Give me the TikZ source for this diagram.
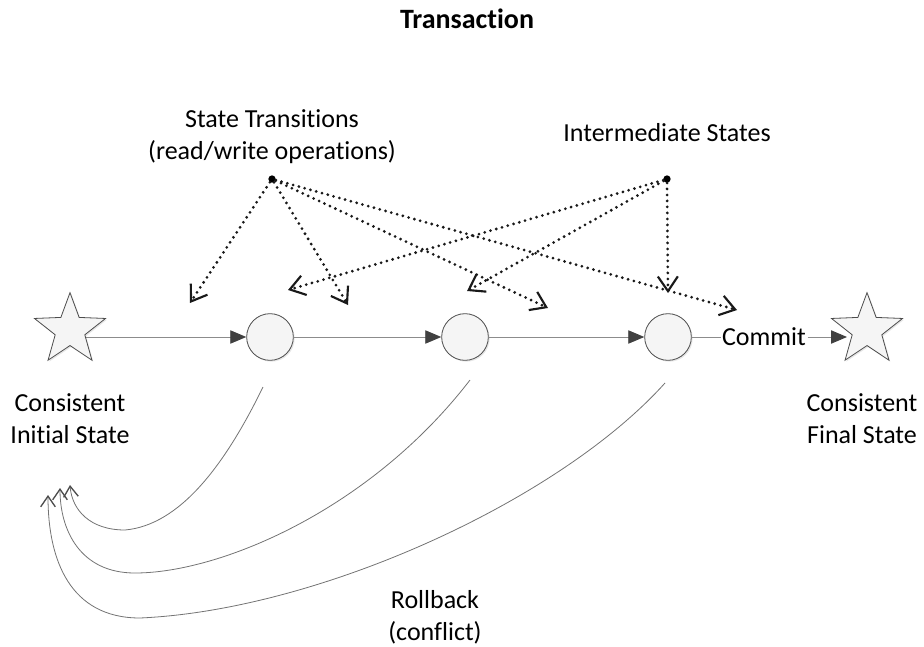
\documentclass[tikz,border=0pt]{standalone}
\usepackage{fontspec}
\setmainfont{Carlito}[Ligatures=NoCommon]
\usetikzlibrary{arrows.meta,shapes.geometric,backgrounds,calc,shadows}
\tikzstyle{statestar}=[star, star points=5, star point ratio=2.4, minimum size=56pt, inner sep=0pt, draw=black!70, fill=black!4, line width=0.6pt, drop shadow={shadow xshift=1pt, shadow yshift=-1pt, opacity=0.2}]
\tikzstyle{opstate}=[circle, minimum size=35pt, inner sep=0pt, draw=black!70, fill=black!4, line width=0.6pt, drop shadow={shadow xshift=1pt, shadow yshift=-1pt, opacity=0.2}]
\tikzstyle{pin}=[circle, fill=black, minimum size=5.5pt, inner sep=0pt]
\tikzstyle{lbl}=[font=\fontsize{19.5}{24}\selectfont, align=center, inner sep=1pt]
\tikzstyle{flow}=[draw=black!45, line width=0.7pt, -{Triangle[length=12pt,width=10pt,color=black!75]}]
\tikzstyle{plainline}=[draw=black!45, line width=0.7pt]
\tikzstyle{pointer}=[draw=black!90, dash pattern=on 0pt off 4.5pt, line cap=round, line width=2.3pt, -{Straight Barb[length=11pt,width=15pt,line width=1.6pt]}]
\tikzstyle{rollback}=[draw=black!55, line width=0.6pt, -{Straight Barb[length=8pt,width=11pt,line width=1pt,color=black!70]}]

\begin{document}
\begin{tikzpicture}[x=0.75pt, y=-0.75pt]
	\useasboundingbox (0,0) rectangle (924,646);
	\node[font=\fontsize{21}{25}\selectfont\bfseries] (title) at (467,19) {Transaction};
	% states along the transaction
	\node[statestar] (s1) at (70,330) {};
	\node[opstate] (c1) at (270,337) {};
	\node[opstate] (c2) at (465,337) {};
	\node[opstate] (c3) at (668,337) {};
	\node[lbl] (cm) at (764,337) {Commit};
	\node[statestar] (s2) at (867,330) {};
	\coordinate (s2in) at ($(s2.center)+(-20,7)$);
	\begin{scope}[on background layer]
		\draw[flow] (s1.center |- c1) -- (c1);
		\draw[flow] (cm) -- (s2in);
	\end{scope}
	\draw[flow] (c1) -- (c2);
	\draw[flow] (c2) -- (c3);
	\draw[plainline] (c3) -- (cm);
	\node[lbl] (init) at (70,419) {Consistent\\Initial State};
	\node[lbl] (final) at (862,419) {Consistent\\Final State};
	% labels with dotted pointers
	\node[lbl] (trans) at (272,137) {State Transitions\\(read/write operations)};
	\node[lbl] (inter) at (667,133) {Intermediate States};
	\node[pin] (d1) at (272,179) {};
	\node[pin] (d2) at (667,179) {};
	\coordinate (t1) at (190,303);
	\coordinate (t2) at (288,290);
	\coordinate (t3) at (348,305);
	\coordinate (t4) at (467,291);
	\coordinate (t5) at (548,308);
	\coordinate (t6) at (668,293);
	\coordinate (t7) at (737,310);
	\foreach \t in {t1,t3,t5,t7}
		\draw[pointer] (d1) -- (\t);
	\foreach \t in {t2,t4,t6}
		\draw[pointer] (d2) -- (\t);
	% rollback paths
	\coordinate (r1) at (263,387);
	\coordinate (r2) at (470,380);
	\coordinate (r3) at (665,383);
	\coordinate (b1) at (70,485);
	\coordinate (b2) at (60,488);
	\coordinate (b3) at (48,495);
	\draw[rollback] (r1) .. controls (225,465) and (180,525) .. (125,530) .. controls (90,530) and (72,510) .. (b1);
	\draw[rollback] (r2) .. controls (370,510) and (220,573) .. (135,573) .. controls (80,573) and (60,530) .. (b2);
	\draw[rollback] (r3) .. controls (560,500) and (320,610) .. (140,618) .. controls (70,618) and (48,560) .. (b3);
	\node[lbl] (rb) at (435,617) {Rollback\\(conflict)};
\end{tikzpicture}
\end{document}
